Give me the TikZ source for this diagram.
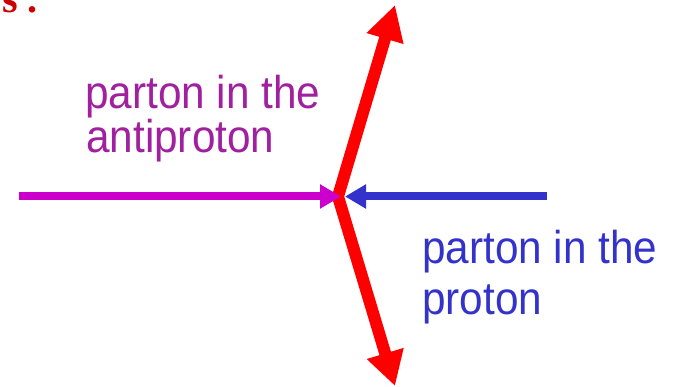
\documentclass[tikz,border=0pt]{standalone}
\usepackage{fontspec}
\setmainfont{Liberation Sans}
\newfontfamily\titleserif{Liberation Serif}
\usetikzlibrary{arrows.meta}
\definecolor{mlinec}{RGB}{204,0,204}
\definecolor{mtextc}{RGB}{160,32,160}
\definecolor{bluec}{RGB}{51,51,204}
\definecolor{redc}{RGB}{255,0,0}
\definecolor{darkredc}{RGB}{204,0,0}
\tikzset{
  lbl/.style={inner sep=0pt, anchor=base west, font=\fontsize{46}{46}\selectfont},
  parton/.style={line width=8pt, -{Triangle[length=21pt,width=23pt]}},
  outgoing/.style={redc, line width=12pt, line join=miter,
    {Triangle[length=35pt,width=36pt]}-{Triangle[length=34pt,width=36pt]}}
}
\newcommand{\sx}[1]{\scalebox{0.92}[1]{#1}}
\begin{document}
\begin{tikzpicture}[x=1pt,y=-1pt]
\useasboundingbox (0,0) rectangle (676,387);
\coordinate (v) at (338,196.5);
\coordinate (ttip) at (395,5);
\coordinate (btip) at (395,386);
\coordinate (ltail) at (19,196.5);
\coordinate (ltip) at (341,196.5);
\coordinate (rtail) at (547,196.5);
\coordinate (rtip) at (345,196.5);
% outgoing partons
\draw[outgoing] (ttip) -- (v) -- (btip);
% incoming partons
\draw[parton, mlinec] (ltail) -- (ltip);
\draw[parton, bluec] (rtail) -- (rtip);
% labels
\node[lbl, mtextc] (a1) at (85,109) {\sx{parton in the}};
\node[lbl, mtextc] (a2) at (86,152.5) {\sx{antiproton}};
\node[lbl, bluec] (p1) at (422,263.5) {\sx{parton in the}};
\node[lbl, bluec] (p2) at (422,314) {\sx{proton}};
% cut-off title fragment
\node[inner sep=0pt, anchor=base east, darkredc, font=\titleserif\bfseries\fontsize{40}{40}\selectfont] (t) at (38,13) {s .};
\end{tikzpicture}
\end{document}
